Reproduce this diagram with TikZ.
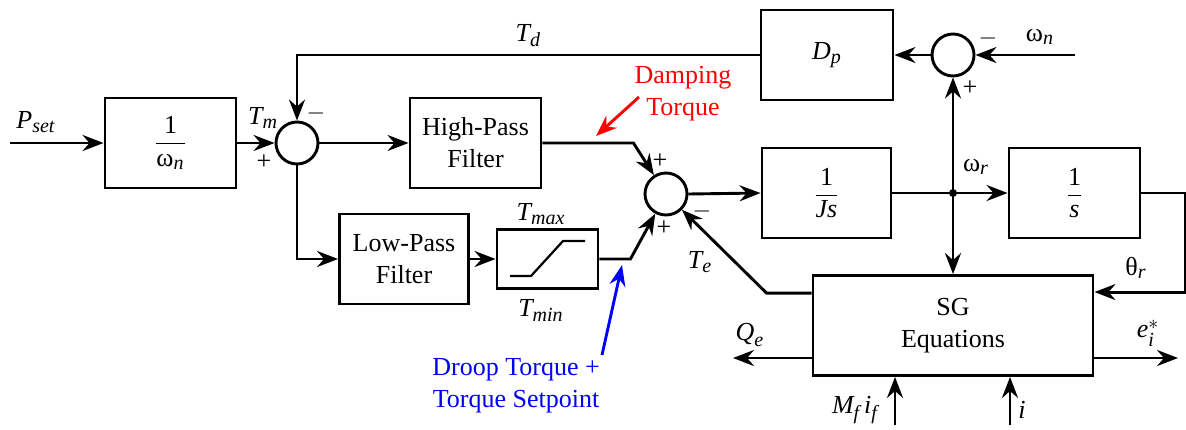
\documentclass[tikz,border=0pt]{standalone}
\usepackage{amsmath}
\usepackage{fontspec}
\setmainfont{LiberationSerif}[
    Extension=.ttf,
    UprightFont=*-Regular,
    BoldFont=*-Bold,
    ItalicFont=*-Italic,
    BoldItalicFont=*-BoldItalic]
\DeclareMathSizes{13}{13}{10}{8}
\usepackage{tikz}
\usetikzlibrary{arrows.meta, calc, positioning}

\newcommand{\sym}[2]{$\textit{#1}_{\textit{#2}}$}
\newcommand{\gsym}[2]{$\text{#1}_{\textit{#2}}$}

\begin{document}
\begin{tikzpicture}[
    x=0.5pt, y=-0.5pt,
    font=\fontsize{13}{16}\selectfont,
    line width=1.45pt,
    box/.style={rectangle, draw, minimum width=65.5pt, minimum height=45pt, align=center, inner sep=2pt},
    sumpt/.style={circle, draw, minimum size=21pt, inner sep=0pt},
    arrow/.style={-{Stealth[length=10.5pt, width=8pt, inset=3.5pt]}},
    note/.style={align=center, inner sep=0pt}
]
    \useasboundingbox (0,0) rectangle (1186,429);

    % blocks
    \node[box] (gain) at (170.5,143) {$\dfrac{\text{1}}{\text{ω}_{\textit{n}}}$};
    \node[sumpt] (s1) at (297,143) {};
    \node[box] (hp) at (475.5,143) {High-Pass\\Filter};
    \node[box, minimum width=64.5pt] (lp) at (404,259) {Low-Pass\\Filter};
    \node[box, minimum width=50.5pt, minimum height=29.5pt] (sat) at (547.5,259) {};
    \node[sumpt] (s2) at (666,194) {};
    \node[box, minimum width=64.5pt] (js) at (826.5,193) {$\dfrac{\text{1}}{\textit{Js}}$};
    \node[box] (sint) at (1074.5,193) {$\dfrac{\text{1}}{\textit{s}}$};
    \node[box, minimum width=66pt] (dp) at (827,55) {\sym{D}{p}};
    \node[sumpt] (s3) at (953,55) {};
    \node[box, minimum width=140pt, minimum height=50pt] (sg) at (953,325.5) {SG\\Equations};

    % saturation curve
    \draw[line width=1.1pt] (510,276) -- (531,276) -- (563,241) -- (585,241);

    % free ends
    \coordinate (pin) at (10,143);
    \coordinate (wn) at (1075,55);
    \coordinate (jn) at (953,193);
    \coordinate (qe) at (733,358);
    \coordinate (eo) at (1178,358);
    \coordinate (mf) at (895,425);
    \coordinate (ii) at (1010,425);
    \coordinate (dt1) at (639,97);
    \coordinate (dt2) at (596,136);
    \coordinate (ds1) at (602,355);
    \coordinate (ds2) at (622,265);

    % connections
    \draw[arrow] (pin) -- (gain.west);
    \draw[arrow] (gain.east) -- (s1.west);
    \draw[arrow] (dp.west) -| node[pos=0.25, above] {\sym{T}{d}} (s1.north);
    \draw[arrow] (s1.east) -- (hp.west);
    \draw[arrow] (s1.south) |- (lp.west);
    \draw[arrow] (lp.east) -- (sat.west);
    \draw[arrow] (hp.east) -- ++(91,0) -- (s2);
    \draw[arrow] (sat.east) -- ++(31,0) -- (s2);
    \draw[arrow] (s2.east) -- (js.west);
    \draw (js.east) -- (jn);
    \draw[arrow] (jn) -- (sint.west);
    \draw[arrow] (jn) -- (sg.north);
    \draw[arrow] (jn) -- (s3.south);
    \draw[arrow] (wn) -- (s3.east);
    \draw[arrow] (s3.west) -- (dp.east);
    \draw[arrow] (sint.east) -- ++(44,0) |- ([yshift=-9pt]sg.north east);
    \draw[arrow] ([yshift=-9.5pt]sg.north west) -- ++(-45,0) -- (s2);
    \draw[arrow] (sg.west |- qe) -- (qe);
    \draw[arrow] (sg.east |- eo) -- (eo);
    \draw[arrow] (mf) -- (mf |- sg.south);
    \draw[arrow] (ii) -- (ii |- sg.south);
    \fill (jn) circle (2pt);

    % signal labels
    \node (lpset) at (36,122) {\sym{P}{set}};
    \node (ltm) at (263,118) {\sym{T}{m}};
    \node (ltmax) at (541,214) {\sym{T}{max}};
    \node (ltmin) at (541,310) {\sym{T}{min}};
    \node (lte) at (700,262) {\sym{T}{e}};
    \node (lwr) at (976,167) {\gsym{ω}{r}};
    \node (lwn) at (1040,37) {\gsym{ω}{n}};
    \node (lthr) at (1136,268) {\gsym{θ}{r}};
    \node (lqe) at (750,335) {\sym{Q}{e}};
    \node (lei) at (1148,333) {$\textit{e}_{\textit{i}}^{*}$};
    \node (lmf) at (855,410) {$\textit{M}_{\textit{f}}\,\textit{i}_{\textit{f}}$};
    \node (li) at (1022,410) {\textit{i}};

    % signs
    \node (p1) at (264,162) {+};
    \node (m1) at (316,113) {$-$};
    \node (p2) at (660,161) {+};
    \node (p3) at (664,228) {+};
    \node (m2) at (702,211) {$-$};
    \node (p4) at (970,88) {+};
    \node (m3) at (988,38) {$-$};

    % annotations
    \node[note, red] (damp) at (683,94) {Damping\\Torque};
    \draw[arrow, red] (dt1) -- (dt2);
    \node[note, blue] (droop) at (516,386) {Droop Torque +\\Torque Setpoint};
    \draw[arrow, blue] (ds1) -- (ds2);
\end{tikzpicture}
\end{document}
